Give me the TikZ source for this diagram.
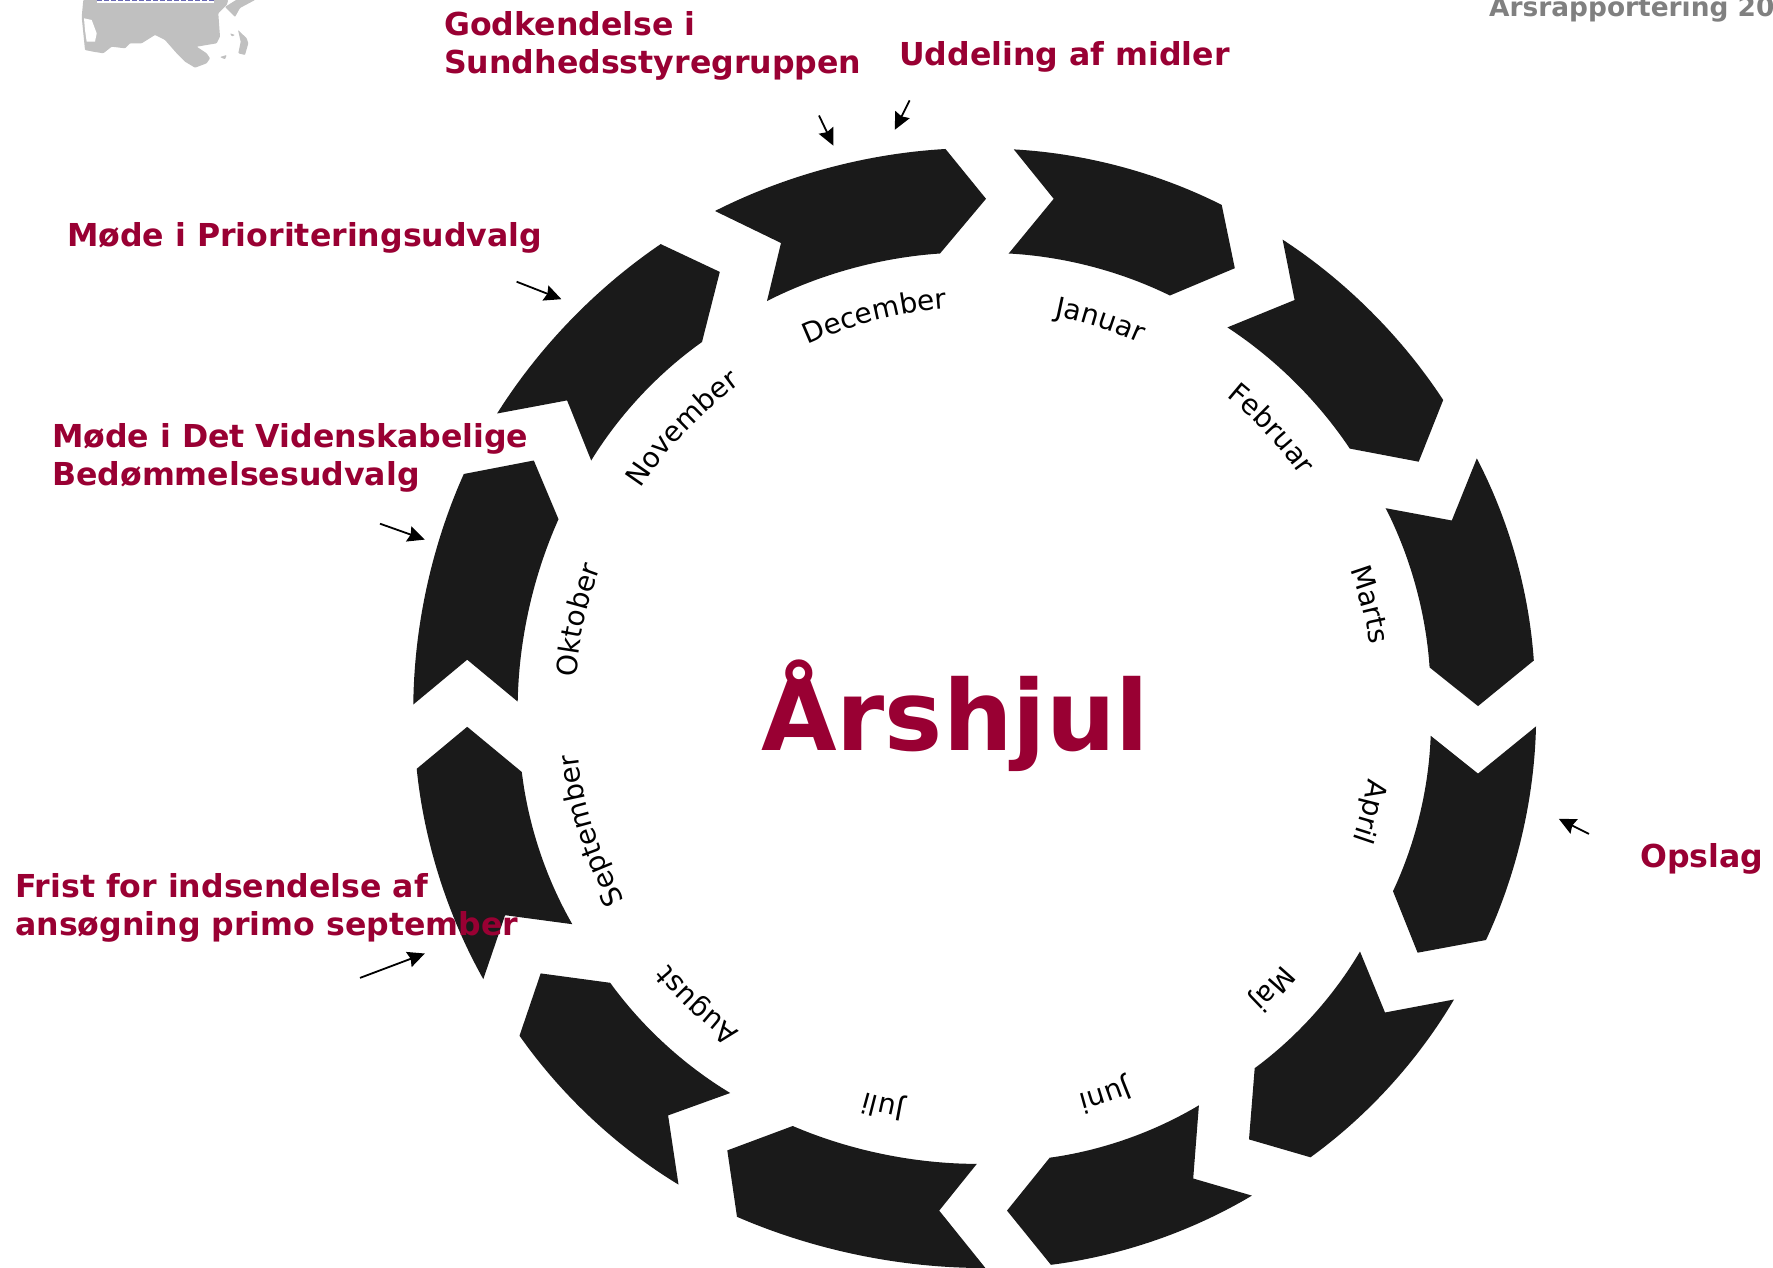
\documentclass[tikz,border=0pt]{standalone}
\usepackage{fontspec}
\setmainfont{DejaVu Sans}
\usetikzlibrary{arrows.meta,decorations.text}
\definecolor{crimsonlab}{HTML}{990033}
\definecolor{segblack}{HTML}{1A1A1A}
\definecolor{mapgrey}{HTML}{C0C0C0}
\definecolor{headgrey}{HTML}{808080}
\tikzset{
  seg/.style={fill=segblack,draw=none},
  inarc/.style={bend left=11.5,looseness=0.85},
  outarc/.style={bend right=11.8,looseness=0.85},
  bold label/.style={inner sep=0,align=left,text=crimsonlab,anchor=west,font=\fontsize{31.6}{38.5}\selectfont\bfseries},
  pointer/.style={draw=black,line width=1.8pt,-{Stealth[inset=2pt,length=17pt,width=16pt]}},
  mapshape/.style={fill=mapgrey,draw=none,rounded corners=0.8pt}
}
% #1 name, then A B C D E F
\newcommand{\arcseg}[7]{%
  \coordinate (#1a) at (#2); \coordinate (#1b) at (#3); \coordinate (#1c) at (#4);
  \coordinate (#1d) at (#5); \coordinate (#1e) at (#6); \coordinate (#1f) at (#7);
  \fill[seg] (#1a) -- (#1b) -- (#1c) to[inarc] (#1d) -- (#1e) -- (#1f) to[outarc] (#1a) -- cycle;
}
% #1 angle of the word on the wheel (anticlockwise, screen), #2 word
\newcommand{\monthtext}[2]{%
  \pgfmathsetmacro{\tstart}{-(#1)-40}%
  \pgfmathsetmacro{\tend}{-(#1)+40}%
  \path[decorate,decoration={text along path,text align=center,
    text={|\fontsize{28}{32}\selectfont|#2}}]
    (wheel) ++(\tstart:400) arc[start angle=\tstart,end angle=\tend,radius=400];
}
\begin{document}
\begin{tikzpicture}[x=1pt,y=-1pt]
\useasboundingbox (0,0) rectangle (1773,1268);
\clip (0,0) rectangle (1773,1268);
\fill[white] (0,0) rectangle (1773,1268);
\coordinate (wheel) at (975,708);

% map fragment
\fill[mapshape] (83.3,0) -- (81.7,17) -- (83.3,33) -- (85,50) -- (93.3,51.7) -- (103.3,53.3) -- (111.7,46.7) -- (125,48.3) -- (130,43.3) -- (141.7,43.3) -- (155,35) -- (165,40) -- (176.7,53.3) -- (185,61.7) -- (195,67.7) -- (206.7,63.3) -- (210,58.3) -- (206.7,53.3) -- (196.7,46.7) -- (216.7,43.3) -- (220,36.7) -- (218.3,13.3) -- (226.7,5) -- (228.3,0) -- cycle;
\fill[white] (84,18.3) -- (91.7,20) -- (96.7,33.3) -- (95,41.7) -- (86.7,41.7) -- (85,30) -- cycle;
\fill[mapshape] (225,7) -- (235,17) -- (240,8) -- (255,0) -- (236,0) -- cycle;
\fill[mapshape] (238,30) -- (246.7,38.3) -- (248.3,43.3) -- (245,55) -- (238.3,53.3) -- (240.7,41.7) -- cycle;
\fill[mapshape] (220,57) -- (226.7,55) -- (225,59.3) -- cycle;
\fill[mapshape] (230,33.3) -- (235,35) -- (232,36.5) -- cycle;
\fill[white] (97,0) rectangle (214,2.6);
\draw[draw=black!50!blue!60!white,line width=1pt,dash pattern=on 5pt off 2pt] (97,0.8) -- (214,0.8);

% wheel
\arcseg{jan}{1013.8,149.4}{1053.7,198.8}{1008.7,253.5}{1169.9,295.5}{1234.8,268.2}{1221.7,204.9}
\arcseg{feb}{1282.6,239.6}{1294.6,300}{1227.4,327.4}{1349.8,448.6}{1418.7,461.7}{1443.2,400}
\arcseg{mar}{1476.8,458.4}{1451.8,520.5}{1385.7,508.2}{1429.6,667.4}{1478,706.1}{1533.8,660.5}
\arcseg{apr}{1536,726.4}{1478,773.6}{1430.7,735.8}{1393,891.2}{1417.6,952.7}{1486,940}
\arcseg{maj}{1454,999.5}{1385,1012.5}{1360,951.5}{1254.7,1068.2}{1249,1139.4}{1310.5,1157.3}
\arcseg{jun}{1251.9,1195.6}{1193.2,1178.5}{1198.9,1105.3}{1049.7,1157.7}{1007,1210.6}{1050.9,1264.8}
\arcseg{jul}{985.4,1268}{939.2,1210.6}{976.8,1163.9}{792.7,1126}{727.3,1150.4}{737,1216.8}
\arcseg{aug}{678.5,1184.6}{668.1,1115.4}{730.2,1093}{610.2,982.8}{540.7,973.4}{519.5,1035.7}
\arcseg{sep}{483.3,979.1}{505.1,915.2}{572.3,924.2}{521.8,772}{467.2,726.8}{416.7,768.8}
\arcseg{okt}{413.3,704.5}{467.2,659.7}{517.7,701.6}{558.5,519.2}{533.8,460.5}{463.8,474}
\arcseg{nov}{497.1,413.5}{567.1,400.4}{591.2,460.5}{702,342}{719.8,271.9}{660.7,244.1}
\arcseg{dec}{715,211}{781,243}{767,301}{940,253.5}{986,198.8}{945.5,149}

% months
\monthtext{104.4}{December}
\monthtext{72.1}{Januar}
\monthtext{43.3}{Februar}
\monthtext{14.7}{Marts}
\monthtext{-14.7}{April}
\monthtext{-43.3}{Maj}
\monthtext{-71.4}{Juni}
\monthtext{-103}{Juli}
\monthtext{-133.1}{August}
\monthtext{-162.3}{September}
\monthtext{-192.5}{Oktober}
\monthtext{-223.7}{November}

% title
\node[inner sep=0,anchor=base west,text=crimsonlab,font=\fontsize{97.7}{98}\selectfont\bfseries] (title) at (761,750) {Årshjul};
\node[inner sep=0,anchor=base west,text=headgrey,font=\fontsize{26.4}{30}\selectfont\bfseries] (head) at (1489,17) {Årsrapportering 20};

% labels
\node[bold label] (godk) at (444,46) {Godkendelse i\\Sundhedsstyregruppen};
\node[bold label] (udd) at (899,57) {Uddeling af midler};
\node[bold label] (prio) at (67,238) {Møde i Prioriteringsudvalg};
\node[bold label] (vid) at (52,458) {Møde i Det Videnskabelige\\Bedømmelsesudvalg};
\node[bold label] (frist) at (15,908) {Frist for indsendelse af\\ansøgning primo september};
\node[bold label] (ops) at (1640,858.5) {Opslag};

% pointers
\coordinate (p1s) at (819,115.5); \coordinate (p1e) at (833.4,145.7);
\coordinate (p2s) at (909.6,100.4); \coordinate (p2e) at (894.8,129.8);
\coordinate (p3s) at (516.6,281.7); \coordinate (p3e) at (561.4,299.2);
\coordinate (p4s) at (380,523.7); \coordinate (p4e) at (424.8,539.6);
\coordinate (p5s) at (360,977.9); \coordinate (p5e) at (424.8,953.5);
\coordinate (p6s) at (1589,833.9); \coordinate (p6e) at (1558.8,818.8);
\draw[pointer] (p1s) -- (p1e);
\draw[pointer] (p2s) -- (p2e);
\draw[pointer] (p3s) -- (p3e);
\draw[pointer] (p4s) -- (p4e);
\draw[pointer] (p5s) -- (p5e);
\draw[pointer] (p6s) -- (p6e);
\end{tikzpicture}
\end{document}
